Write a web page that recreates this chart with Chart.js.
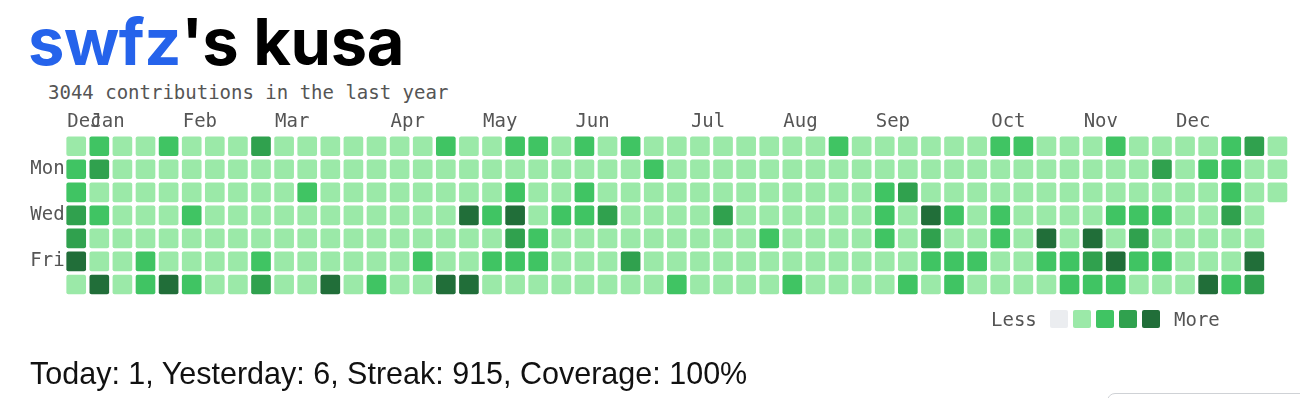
<!DOCTYPE html>
<html lang="en">
<head>
  <meta charset="UTF-8">
  <script src="https://cdn.jsdelivr.net/npm/chart.js"></script>
  <title>swfz's kusa</title>
  <style>
    body{margin:0; width:1300px; height:398px; overflow:hidden; background:#fff; position:relative;}
    #myChart{position:absolute; left:0; top:0;}
    .mono{font-family:"DejaVu Sans Mono", monospace; font-size:19px; line-height:19px; color:#555; position:absolute; white-space:pre;}
    #title{position:absolute; left:28px; top:9px; font-family:Inter, sans-serif; font-weight:700; font-size:65px; line-height:65px; letter-spacing:-0.4px; color:#000;}
    #title span{color:#2563eb;}
    #sub{left:48px; top:83px;}
    #legend{position:absolute; left:0; top:0;}
    .box{position:absolute; top:310px; width:18px; height:18px; border-radius:2px;}
    #stats{position:absolute; left:30px; top:358px; font-family:"Liberation Sans", sans-serif; font-size:30.5px; line-height:30px; color:#111;}
    #card{position:absolute; left:1107px; top:393px; width:260px; height:60px; border:1.5px solid #cfd2d6; border-radius:8px;}
  </style>
</head>
<body>
  <div id="title"><span>swfz</span>'s kusa</div>
  <div class="mono" id="sub">3044 contributions in the last year</div>
  <canvas id="myChart" width="1300" height="398"></canvas>
  <div id="legend"></div>
  <div id="stats">Today: 1, Yesterday: 6, Streak: 915, Coverage: 100%</div>
  <div id="card"></div>
  <script>
    // contribution level per week column (0-4), one array per weekday
    const sun = [1,2,1,1,2,1,1,1,3, 1,1,1,1,1,1,1,2,1,1,2, 2,1,2,1,2,1,1,1,1,1,1, 1,1,2,1,1,1,1,1,1,2,2, 1,1,1,2,1,1,1,1,2,3,1];
    const mon = [2,3,1,1,1,1,1,1,1, 1,1,1,1,1,1,1,1,1,1,1, 1,1,1,1,1,2,1,1,1,1,1, 1,1,1,1,1,1,1,1,1,1,1, 1,1,1,1,1,3,1,2,2,1,1];
    const tue = [2,1,1,1,1,1,1,1,1, 1,2,1,1,1,1,1,1,1,1,2, 1,1,2,1,1,1,1,1,1,1,1, 1,1,1,1,2,3,1,1,1,1,1, 1,1,1,1,1,1,1,1,2,1,1];
    const wed = [3,2,1,1,1,2,1,1,1, 1,1,1,1,1,1,1,1,4,2,4, 1,2,2,3,1,1,1,1,3,1,1, 1,1,1,1,2,1,4,2,1,2,1, 1,1,1,2,2,2,1,1,3,1,null];
    const thu = [3,1,1,1,1,1,1,1,1, 1,1,1,1,1,1,1,1,1,1,3, 2,1,1,1,1,1,1,1,1,1,2, 1,1,1,1,2,1,3,1,1,2,1, 4,1,4,1,3,1,1,1,1,1,null];
    const fri = [4,1,1,2,1,1,1,1,2, 1,1,1,1,1,1,2,1,1,2,2, 2,1,1,1,3,1,1,1,1,1,1, 1,1,1,1,1,1,2,2,2,1,1, 2,2,3,4,2,2,1,1,1,4,null];
    const sat = [1,4,1,2,4,2,1,1,3, 1,1,4,1,2,1,1,4,4,1,1, 1,1,1,1,1,1,2,1,1,1,1, 2,1,1,1,1,2,1,2,1,1,1, 1,2,2,2,1,1,1,4,2,3,null];

    const weeks = [sun, mon, tue, wed, thu, fri, sat];
    const dayNames = ['', 'Mon', '', 'Wed', '', 'Fri', ''];
    const monthStarts = [0, 1, 5, 9, 14, 18, 22, 27, 31, 35, 40, 44, 48];
    const monthNames = ['Dec', 'Jan', 'Feb', 'Mar', 'Apr', 'May', 'Jun', 'Jul', 'Aug', 'Sep', 'Oct', 'Nov', 'Dec'];
    const palette = ['#ebedf0', '#9be9a8', '#40c463', '#30a14e', '#216e39'];

    const colLabels = sun.map(() => '');
    monthStarts.forEach((c, i) => { colLabels[c] = monthNames[i]; });

    const half = 0.412;
    const datasets = weeks.map((row, r) => ({
      label: dayNames[r],
      data: row.map(l => l == null ? null : [r - half, r + half]),
      backgroundColor: row.map(l => palette[l || 0]),
      borderWidth: 0,
      borderRadius: 2,
      borderSkipped: false,
      barThickness: 19,
      grouped: false
    }));

    const monoFont = {family: 'DejaVu Sans Mono', size: 19};

    new Chart(document.getElementById('myChart'), {
      type: 'bar',
      data: {labels: colLabels, datasets: datasets},
      options: {
        responsive: false,
        animation: false,
        devicePixelRatio: 1,
        layout: {padding: {left: 0, top: 0, right: 11, bottom: 102}},
        plugins: {legend: {display: false}, tooltip: {enabled: false}},
        scales: {
          x: {
            position: 'top',
            grid: {display: false, drawTicks: false},
            border: {display: false},
            ticks: {autoSkip: false, maxRotation: 0, align: 'start', labelOffset: -9, padding: 1.5, color: '#555', font: monoFont},
            afterFit: s => { s.height = 134.7; }
          },
          y: {
            reverse: true,
            min: -0.5,
            max: 6.5,
            grid: {display: false, drawTicks: false},
            border: {display: false},
            afterBuildTicks: s => { s.ticks = [1, 3, 5].map(v => ({value: v})); },
            ticks: {padding: 0, color: '#555', font: monoFont, callback: v => dayNames[v]},
            afterFit: s => { s.width = 64.65; }
          }
        }
      }
    });

    // colour key
    const legend = document.getElementById('legend');
    legend.innerHTML = '<div class="mono" style="left:991px;top:310px">Less</div>' +
      palette.map((c, i) => '<div class="box" style="left:' + (1050 + i * 23) + 'px;background:' + c + '"></div>').join('') +
      '<div class="mono" style="left:1174px;top:310px">More</div>';
  </script>
</body>
</html>
